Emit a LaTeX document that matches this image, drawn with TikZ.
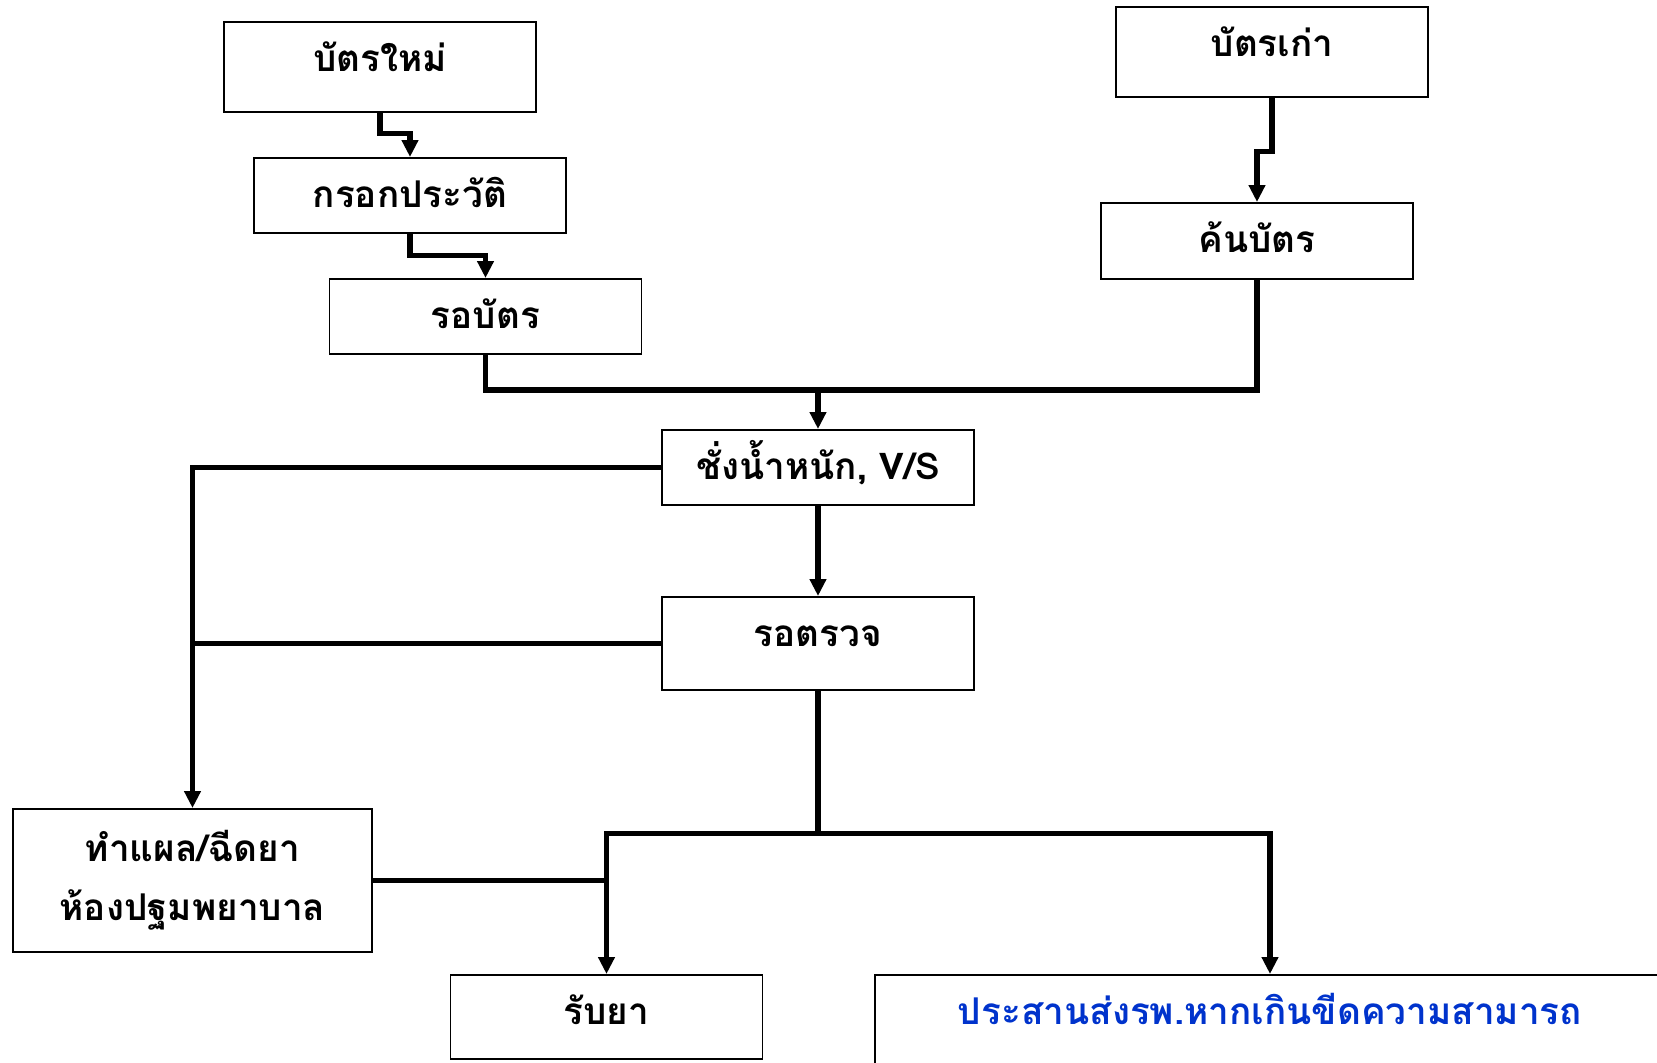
\documentclass[tikz,border=0pt]{standalone}
\usepackage{fontspec}
\newfontfamily\thaifont[Script=Thai]{Loma}
\usetikzlibrary{arrows.meta}
\definecolor{referblue}{RGB}{0,51,204}

\begin{document}
\begin{tikzpicture}[x=0.02cm, y=-0.02cm,
    box/.style={draw, line width=0.9pt, inner xsep=0pt, inner ysep=0pt, minimum width=6.24cm,
      text height=1cm, anchor=north, font=\thaifont\bfseries\fontsize{21}{25}\selectfont},
    flow/.style={line width=3pt},
    arr/.style={flow, -{Triangle[length=0.34cm,width=0.32cm]}}]
  \clip (0,0) rectangle (1657,1062);
  % new card
  \node[box, text depth=0.8cm] (newcard) at (380,21) {บัตรใหม่};
  \node[box, text depth=0.5cm] (history) at (410,157) {กรอกประวัติ};
  \node[box, text depth=0.5cm] (waitcard) at (485.5,278) {รอบัตร};
  \draw[arr] (newcard.south) -- ++(0,21) -| (history.north);
  \draw[arr] (history.south) -- ++(0,22) -| (waitcard.north);
  % old card
  \node[box, text depth=0.8cm] (oldcard) at (1272,6) {บัตรเก่า};
  \node[box, text depth=0.52cm] (search) at (1257,202) {ค้นบัตร};
  \draw[arr] (oldcard.south) -- ++(0,54) -| (search.north);
  % exam
  \node[box, text depth=0.5cm] (weigh) at (818,429) {ชั่งน้ำหนัก, V/S};
  \node[box, text depth=0.86cm] (exam) at (818,596) {รอตรวจ};
  \path (weigh.north) ++(0,-39) coordinate (join);
  \draw[flow] (waitcard.south) |- (join) -| (search.south);
  \draw[arr] (join) -- (weigh.north);
  \draw[arr] (weigh.south) -- (exam.north);
  % after exam
  \node[box, text height=, minimum width=7.18cm, minimum height=2.86cm, align=center,
    font=\thaifont\bfseries\fontsize{21}{33.5}\selectfont] (aid) at (192.5,808) {ทำแผล/ฉีดยา\\ห้องปฐมพยาบาล};
  \node[box, text depth=0.68cm] (meds) at (606.5,974) {รับยา};
  \node[box, text depth=1.5cm, minimum width=15.8cm, text=referblue] (refer) at (1270,974) {ประสานส่งรพ.หากเกินขีดความสามารถ};
  \draw[arr] (weigh.west) -| (aid.north);
  \draw[flow] (exam.west) -- (exam.west -| aid.north);
  \path (exam.south) ++(0,143) coordinate (split);
  \draw[flow] (exam.south) -- (split);
  \draw[arr] (split) -| (meds.north);
  \draw[arr] (split) -| (refer.north);
  \draw[flow] (aid.east) -- (aid.east -| meds.north);
\end{tikzpicture}
\end{document}
